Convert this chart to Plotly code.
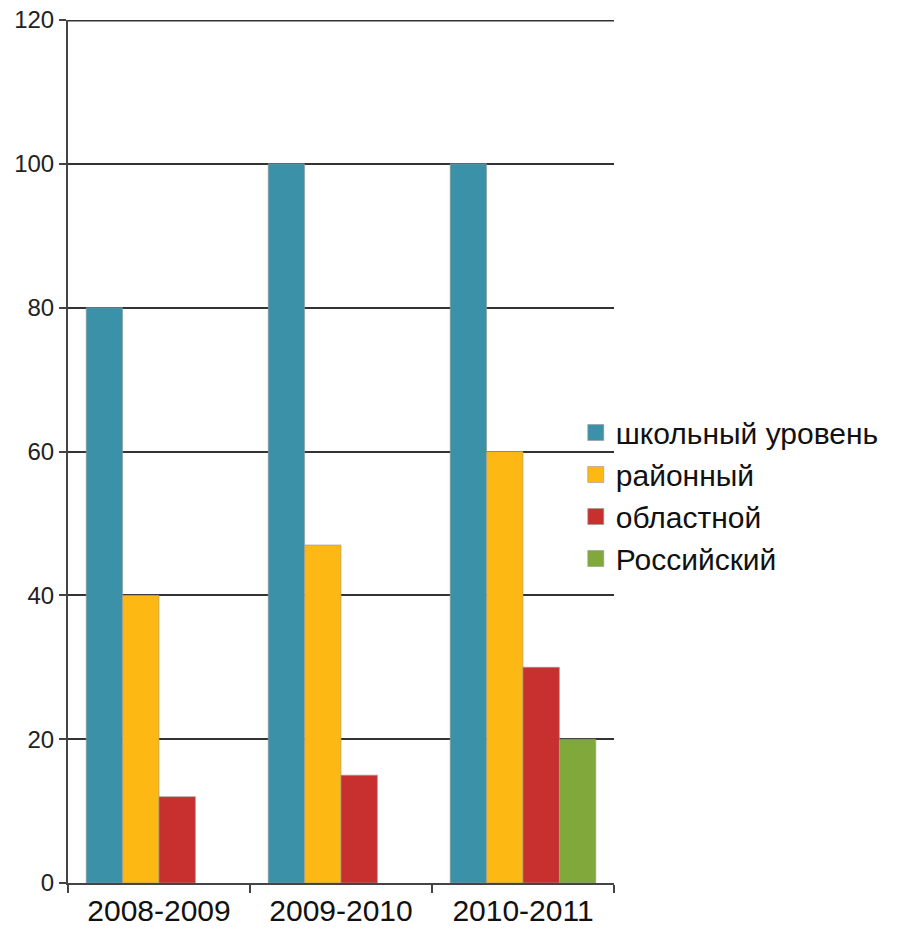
import plotly.graph_objects as go

categories = ["2008-2009", "2009-2010", "2010-2011"]
series_names = ["школьный уровень", "районный", "областной", "Российский"]
school = [80, 100, 100]
district = [40, 47, 60]
regional = [12, 15, 30]
russian = [None, None, 20]
y_ticks = [0, 20, 40, 60, 80, 100, 120]
colors = ["#3A91A8", "#FDB813", "#C8302F", "#80A83A"]

fig = go.Figure()
for name, vals, col in zip(series_names, [school, district, regional, russian], colors):
    fig.add_trace(go.Bar(
        x=categories, y=vals, name=name, showlegend=False,
        marker=dict(color=col, line=dict(color="#999999", width=0.6)),
    ))
# legend entries with larger square swatches
for name, col in zip(series_names, colors):
    fig.add_trace(go.Scatter(
        x=[None], y=[None], mode="markers", name=name,
        marker=dict(symbol="square", size=16, color=col, line=dict(color="#999999", width=0.6)),
    ))

# top gridline (plotly drops gridlines that sit exactly on the range end;
# half of this line is clipped by the plot area, hence the doubled width)
fig.add_shape(type="line", xref="paper", x0=0, x1=1, yref="y",
              y0=max(y_ticks), y1=max(y_ticks),
              line=dict(color="#333333", width=3), layer="below")

fig.update_layout(
    width=897, height=930,
    paper_bgcolor="white", plot_bgcolor="white",
    margin=dict(l=68, r=283, t=20, b=47, autoexpand=False),
    barmode="group", bargap=0.2, bargroupgap=0,
    font=dict(family="Liberation Sans, Arial, sans-serif", color="#222222"),
    legend=dict(x=0.93, y=0.449, xanchor="left", yanchor="middle",
                font=dict(size=30, color="#111111"),
                bgcolor="rgba(0,0,0,0)", tracegroupgap=0, itemwidth=30),
    showlegend=True,
)
fig.update_yaxes(
    range=[0, 120], tickmode="array", tickvals=y_ticks,
    ticktext=[str(v) for v in y_ticks], ticklabeloverflow="allow",
    showgrid=True, gridcolor="#333333", gridwidth=1.5,
    showline=True, linecolor="#444444", linewidth=2,
    ticks="outside", ticklen=7, tickcolor="#444444", tickwidth=2,
    tickfont=dict(size=24, color="#222222"), zeroline=False,
)
fig.update_xaxes(
    showline=True, linecolor="#444444", linewidth=2,
    ticks="outside", tickson="boundaries", ticklen=8, tickcolor="#444444", tickwidth=2,
    tickfont=dict(size=30, color="#111111"),
)

fig.write_html(
    "out.html",
    config={"displayModeBar": False},
    post_script="document.body.style.margin='0';document.body.style.overflow='hidden';",
)
